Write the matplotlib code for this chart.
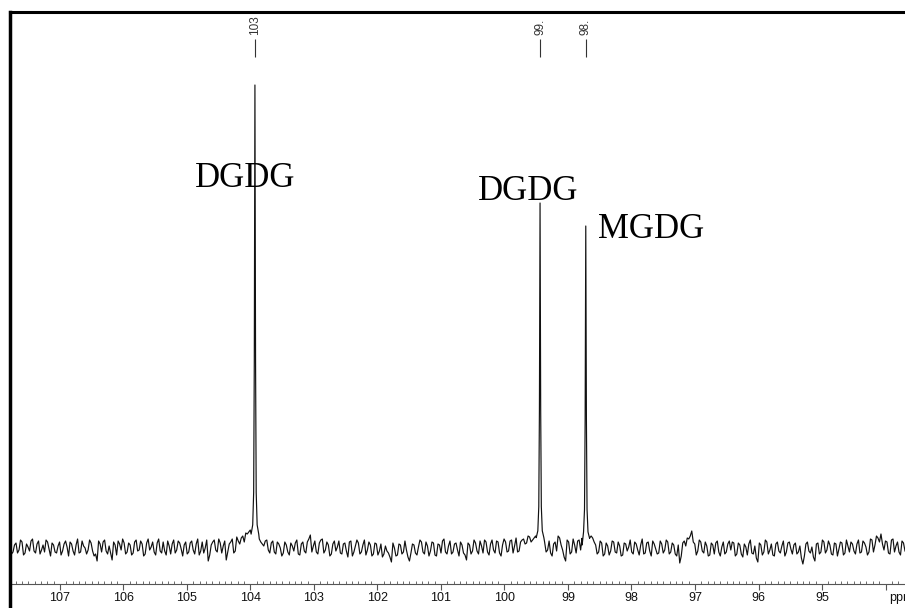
import numpy as np
import matplotlib
matplotlib.use('Agg')
import matplotlib.pyplot as plt
from matplotlib.lines import Line2D
from matplotlib.ticker import MultipleLocator

# 13C NMR, anomeric region of galactolipids

# visible ppm window (axis runs right to left)
ppm_left = 107.787
ppm_right = 93.693

# baseline noise (pixel-ish intensity units, 0 = baseline)
noise = [2, -4, 5, -2, 6, -5, 1, 7, -3, 4, -6, 3, 8, -1, 5, -4, 2, -7, 4, 1,
         6, -3, 3, -5, 7, 0, -2, 5, -8, -13, 4, 6, -3, 2, -12, 3, 7, -2, 5, -4,
         3, -5, 8, -2, 4, -6, 9, 1, -4, 5, -3, 6, -7, 2, 4, -5, 7, -1, 3, -6,
         5, -2, 4, -7, 6, 0, -13, 3, 8, -4, 5, 2, -12, 4, 9, -3, 7, 10, 6, 14,
         18, 20, 12, 9, 4, 7, -2, 5, -4, 6, 0, -5, 3, -7, 2, 5, -6, 4, -3, 6,
         13, 2, -4, 5, 9, -2, 3, -6, 7, 1, -5, 4, -3, 6, -8, 2, 5, -4, 8, -2,
         3, -6, 4, -3, -9, 2, -5, -14, 0, -7, 3, -4, -2, -13, 4, -5, 1, 6, -6, 2,
         -3, 5, -8, 3, 7, -4, 2, -6, 4, -2, 6, -5, -12, 3, -3, 5, -6, 2, 8, -4,
         4, -2, 7, -5, 3, 6, -3, 8, 2, -4, 6, 9, 5, 11, 8, 12, 10, 10, 6, -2,
         -5, 4, -3, 10, -2, -13, 6, -4, 3, 7, -2, 9, 10, 10, 10, 3, -4, 5, -6, 2,
         -3, 6, -5, 2, -7, 4, 1, -4, 6, -2, 3, -6, 5, -3, 7, -1, -5, 4, -2, 6,
         -4, 3, -8, -15, 5, 2, 9, 17, 4, -3, 6, -5, 2, -7, 3, 5, -4, 1, -6, 4,
         -2, 5, -6, 3, -9, 1, 4, -5, 2, -14, 3, -4, 6, -2, -7, 4, -3, 2, -8, 5,
         -1, 3, -6, 2, -16, 4, -3, 1, -13, 5, -4, 6, -2, 3, -7, 4, -1, 5, -5, 2,
         6, -3, 4, -5, 7, 1, -4, 8, 3, 10, 14, -2, 6, -6, 9, 2, -4, 7, -3]

# noise values between the points above
noise_mid = [-6, 3, -5, 8, -7, 4, -3, 9, -5, 7, -2, -4, 6, -8, 3, -5, 6, -3, 7, -8,
             4, -7, 9, -4, 2, -6, 8, -3, -6, 7, -4, 8, -6, -5, 6, -7, 4, 9, -6, 5,
             -7, 6, -3, 7, -8, 5, -2, 6, -7, 9, -5, -3, 7, -6, 8, -2, 5, -8, 6, -4,
             7, -6, 9, -3, -5, 8, -7, 6, -2, 9, -5, 7, -4, 6, -5, 11, 4, 12, 15, 16,
             22, 15, 10, 6, 2, 8, -5, 7, -6, 4, -8, 6, -4, 5, -3, 8, -7, 6, -5, 9,
             -4, 7, -6, 8, -5, 6, -8, 4, -3, 7, -6, 5, -9, 7, -4, 8, -6, 3, -7, 6,
             -8, 5, -7, 4, -6, -3, -9, 5, -8, 4, -6, 7, -9, -5, 3, -7, 8, -4, 6, -8,
             6, -7, 4, -5, 9, -6, 7, -4, 5, -8, 3, -7, 5, -6, 8, -3, 7, -5, 6, -7,
             8, -5, 6, -8, 9, -4, 7, -5, 10, -3, 8, 4, 12, 6, 10, 14, 10, 8, -4, 7,
             -8, 6, 12, 3, -9, 8, -6, 9, -5, 8, 3, 12, 10, 12, 6, -6, 7, -8, 5, -7,
             7, -4, 6, -8, 5, -3, 8, -6, 4, -7, 9, -5, 6, -8, 4, -6, 7, -5, 8, -6,
             5, -6, 3, -8, 7, 10, 12, 6, -7, 8, -3, 6, -8, 5, -6, 7, -8, 6, -4, 7,
             6, -8, 5, -6, 4, -7, 8, -6, -10, 5, -7, 8, -6, 4, -8, 6, -5, 7, -4, 6,
             -6, 5, -4, -10, -8, 6, -5, -9, 4, -6, 8, -5, 7, -6, 5, -8, 6, -7, 8, -4,
             4, -6, 8, -4, 5, -7, 9, -4, 12, 6, 4, 7, -5, 8, -4, 6, -7, 5]

# peaks
peak_ppm = [103.93, 99.44, 98.72]
peak_height = [463, 345, 322]
peak_tag = ['103', '99.', '98.']
profile_offset = [-0.06, -0.035, -0.02, -0.01, 0.0, 0.01, 0.02, 0.035, 0.06]
profile_shape = [0.03, 0.05, 0.12, 0.4, 1.0, 0.4, 0.12, 0.05, 0.03]

# assignments written on the spectrum
names = ['DGDG', 'DGDG', 'MGDG']
name_ppm = [104.87, 100.42, 98.53]
name_y = [361, 348, 310]

tick_ppm = list(range(107, 93, -1))

# build the trace
grid = np.linspace(ppm_left, ppm_right, len(noise))
grid_mid = (grid[:-1] + grid[1:]) / 2
gx = np.concatenate([grid, grid_mid])
gy = np.concatenate([np.array(noise, float), np.array(noise_mid, float)])
keep = np.ones(len(gx), dtype=bool)
for p in peak_ppm:
    keep &= np.abs(gx - p) > 0.05
xs = [gx[keep]]
ys = [gy[keep]]
for p, h in zip(peak_ppm, peak_height):
    xs.append(p + np.array(profile_offset))
    ys.append(h * np.array(profile_shape))
x = np.concatenate(xs)
y = np.concatenate(ys)
order = np.argsort(-x)
x, y = x[order], y[order]

fig = plt.figure(figsize=(9.05, 6.08), dpi=100)
ax = fig.add_axes([10 / 905, 24 / 608, 1 - 10 / 905, 572.5 / 608])

ax.plot(x, y, color='#111111', lw=0.85)

ax.set_xlim(ppm_left, ppm_right)
ax.set_ylim(-36, 536.5)

# peak pick marks at the top
ax.vlines(peak_ppm, 491, 509, color='#333333', lw=0.8)
for p, t in zip(peak_ppm, peak_tag):
    ax.text(p, 513, t, rotation=90, ha='center', va='bottom', fontsize=8.5,
            color='#333333', family='Liberation Sans')

for n, px, py in zip(names, name_ppm, name_y):
    ax.text(px, py, n, ha='left', va='baseline', fontsize=25,
            family='Liberation Serif', color='black')

# frame
for s in ['right', 'left']:
    ax.spines[s].set_visible(False)
ax.spines['top'].set_linewidth(2.2)
ax.spines['bottom'].set_linewidth(0.8)
ax.spines['bottom'].set_color('#555555')
fig.add_artist(Line2D([10 / 905, 10 / 905], [0, 1 - 11.5 / 608],
                      transform=fig.transFigure, color='black', lw=2.5))

ax.set_yticks([])
ax.set_xticks(tick_ppm)
ax.set_xticklabels([str(t) for t in tick_ppm[:-1]] + [''],
                   family='Liberation Sans')
ax.xaxis.set_minor_locator(MultipleLocator(0.1))
ax.tick_params(axis='x', which='major', direction='out', length=4, width=0.8,
               color='#555555', labelsize=9, pad=2, labelcolor='#111111')
ax.tick_params(axis='x', which='minor', direction='in', length=2.5, width=0.6,
               color='#555555')
# unit label sits where the last tick label would be (cut at the edge, as in the source)
ax.text(93.95, -44, 'ppm', ha='left', va='top', fontsize=9,
        family='Liberation Sans', color='#111111', clip_on=False)

fig.savefig('out.png', dpi=100)
